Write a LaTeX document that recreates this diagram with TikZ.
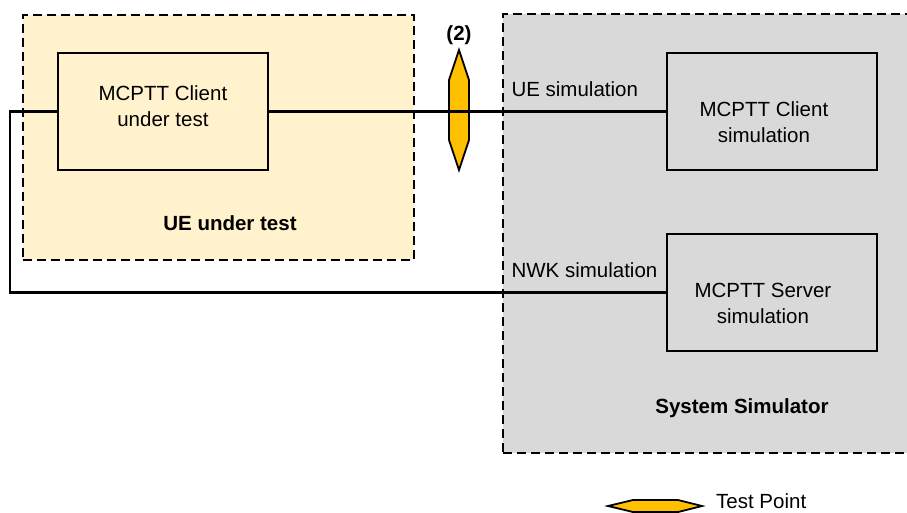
\documentclass[tikz,border=0pt]{standalone}
\usepackage{xcolor}
\usepackage{fontspec}
\setmainfont{Liberation Sans}
\usepackage{tikz}
\usetikzlibrary{positioning,calc}
\definecolor{ueFill}{HTML}{FFF2CC}
\definecolor{simFill}{HTML}{D9D9D9}
\definecolor{tpFill}{HTML}{FFC000}
\tikzset{
  groupBox/.style={
    rectangle,
    draw=black,
    fill=#1,
    line width=1.8pt,
    dash pattern=on 9pt off 5pt,
    inner sep=0pt,
    anchor=north west
  },
  funcBox/.style={
    rectangle,
    draw=black,
    fill=#1,
    line width=1.8pt,
    minimum width=210pt,
    minimum height=117pt,
    inner sep=0pt,
    anchor=north west
  },
  boxText/.style={
    font=\fontsize{20.5}{26}\selectfont,
    align=center
  },
  boldText/.style={
    font=\fontsize{20.5}{26}\selectfont\bfseries
  },
  linkLine/.style={
    line width=2.2pt
  },
  testPoint/.style={
    draw=black,
    fill=tpFill,
    line width=1.8pt,
    line join=miter
  }
}

\begin{document}
\begin{tikzpicture}[x=1pt,y=-1pt]
        \useasboundingbox (0,0) rectangle (907,512);

        % grouping boxes
        \node[groupBox=ueFill, minimum width=391pt, minimum height=245pt] (ue) at (22,14) {};
        \node[groupBox=simFill, minimum width=420pt, minimum height=439pt] (sim) at (502,13) {};

        % test point (2)
        \draw[testPoint] (459,50) -- (469,80) -- (469,140) -- (459,170) -- (449,140) -- (449,80) -- cycle;
        \node[boldText] (tpLabel) at (459,35) {(2)};

        % functional boxes
        \node[funcBox=ueFill, label={[boxText, yshift=5.5pt]center:{MCPTT Client\\under test}}] (client) at (57,52) {};
        \node[funcBox=simFill, label={[boxText, xshift=-8pt, yshift=-11pt]center:{MCPTT Client\\simulation}}] (clientSim) at (666,52) {};
        \node[funcBox=simFill, label={[boxText, xshift=-9pt, yshift=-11pt]center:{MCPTT Server\\simulation}}] (serverSim) at (666,233) {};

        % connections
        \coordinate (bend) at (10,0);
        \draw[linkLine] (client.east) -- (clientSim.west);
        \draw[linkLine] (client.west) -| (bend |- serverSim.west) -- (serverSim.west);

        \node[boxText, anchor=base west] (ueSimLabel) at (508,96) {UE simulation};
        \node[boxText, anchor=base west] (nwkSimLabel) at (508,277) {NWK simulation};

        \node[boldText] (ueLabel) at (230,223) {UE under test};
        \node[boldText] (simLabel) at (742,408) {System Simulator};

        % legend
        \draw[testPoint] (608,506) -- (633,500) -- (678,500) -- (702,506) -- (678,512) -- (633,512) -- cycle;
        \node[boxText, anchor=base west, inner sep=0pt] (legendText) at (716,508) {Test Point};

    \end{tikzpicture}
\end{document}
